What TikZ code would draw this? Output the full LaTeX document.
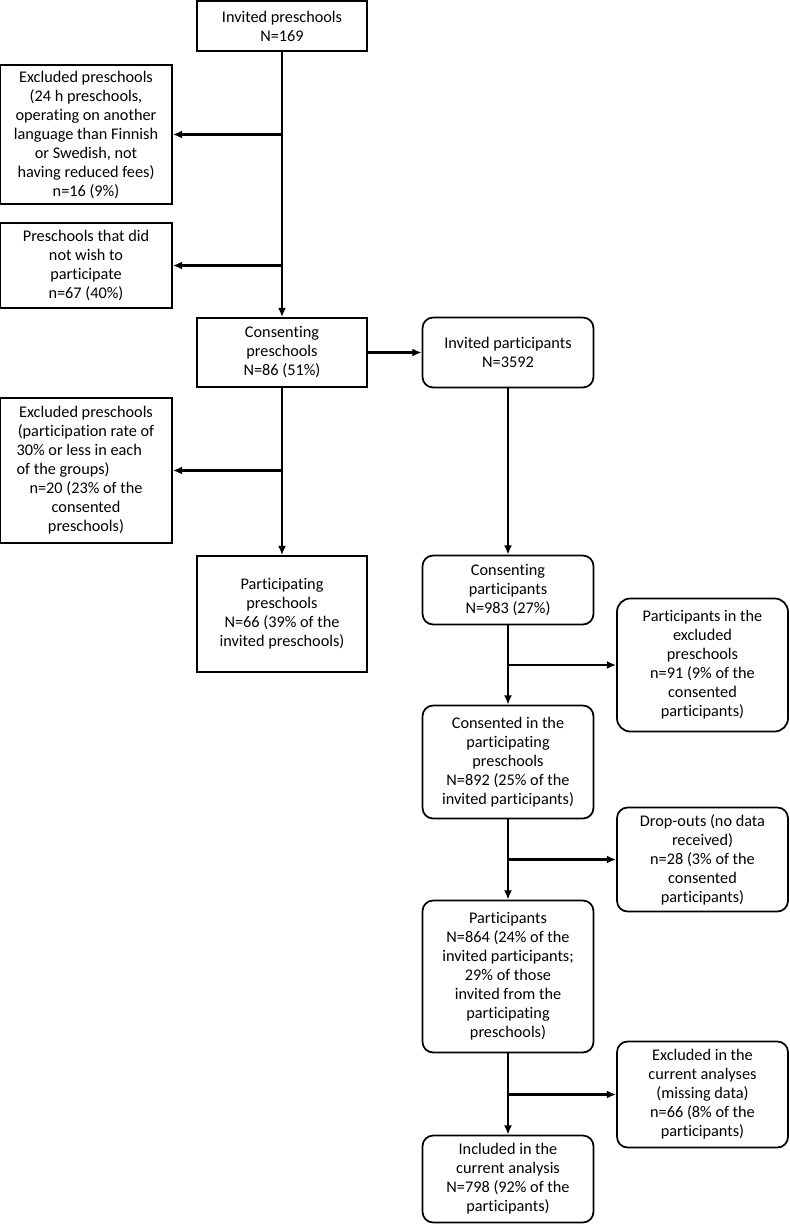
\documentclass[tikz,border=0pt]{standalone}
\usepackage{fontspec}
\setmainfont{Carlito}[Ligatures=NoCommon]
\usetikzlibrary{shapes, arrows.meta, positioning}
\tikzstyle{block}=[draw,rectangle,line width=1.3pt,align=center,inner sep=0pt]
\tikzstyle{rblock}=[block,rounded corners=8pt]
\tikzstyle{every node}=[font=\fontsize{12.2}{14.25}\selectfont]
\tikzstyle{flow}=[line width=1.8pt]

\begin{document}
\begin{tikzpicture}[>={Latex[length=7pt,width=6pt]}]
    \useasboundingbox (0,0) rectangle (591.75pt,-920.25pt);
    \node[block, minimum width=127.5pt, minimum height=37.5pt] (invs) at (211.5pt,-19.5pt) {Invited preschools\\N=169};
    \node[block, minimum width=129pt, minimum height=104.25pt, left of=invs, node distance=147pt, yshift=-81.375pt] (exlang) {Excluded preschools\\(24 h preschools,\\operating on another\\language than Finnish\\or Swedish, not\\having reduced fees)\\n=16 (9\%)};
    \node[block, minimum width=129pt, minimum height=63.75pt, below of=exlang, node distance=98.25pt] (nowish) {Preschools that did\\not wish to\\participate\\n=67 (40\%)};
    \node[block, minimum width=127.5pt, minimum height=51.75pt, below of=invs, node distance=244.875pt] (cons) {Consenting\\preschools\\N=86 (51\%)};
    \node[block, minimum width=129pt, minimum height=108.75pt, left of=cons, node distance=147pt, yshift=-88.5pt] (exrate) {Excluded preschools\\(participation rate of\\\makebox[104pt][l]{30\% or less in each}\\\makebox[104pt][l]{of the groups)}\\n=20 (23\% of the\\consented\\preschools)};
    \node[block, minimum width=127.5pt, minimum height=87pt, below of=cons, node distance=196.125pt] (parts) {Participating\\preschools\\N=66 (39\% of the\\invited preschools)};
    \node[rblock, minimum width=128.25pt, minimum height=52.5pt, right of=cons, node distance=169.5pt] (invp) {Invited participants\\N=3592};
    \node[rblock, minimum width=128.25pt, minimum height=51.75pt, below of=invp, node distance=178.125pt] (consp) {Consenting\\participants\\N=983 (27\%)};
    \node[rblock, rounded corners=10pt, minimum width=128.25pt, minimum height=99.75pt, right of=consp, node distance=145.875pt, yshift=-56.25pt] (exparts) {Participants in the\\excluded\\preschools\\n=91 (9\% of the\\consented\\participants)};
    \node[rblock, minimum width=128.25pt, minimum height=84.75pt, below of=consp, node distance=129pt] (consin) {Consented in the\\participating\\preschools\\N=892 (25\% of the\\invited participants)};
    \node[rblock, minimum width=128.25pt, minimum height=78pt, right of=consin, node distance=145.875pt, yshift=-73.125pt] (drop) {Drop-outs (no data\\received)\\n=28 (3\% of the\\consented\\participants)};
    \node[rblock, minimum width=128.25pt, minimum height=114pt, below of=consin, node distance=160.875pt] (partp) {Participants\\N=864 (24\% of the\\invited participants;\\29\% of those\\invited from the\\participating\\preschools)};
    \node[rblock, minimum width=128.25pt, minimum height=79.5pt, right of=partp, node distance=145.875pt, yshift=-88.5pt] (exmiss) {Excluded in the\\current analyses\\(missing data)\\n=66 (8\% of the\\participants)};
    \node[rblock, minimum width=128.25pt, minimum height=65.25pt, below of=partp, node distance=151.875pt] (incl) {Included in the\\current analysis\\N=798 (92\% of the\\participants)};
    \draw[flow,->] (invs) -- (cons);
    \draw[flow,->] (invs.south |- exlang) -- (exlang);
    \draw[flow,->] (invs.south |- nowish) -- (nowish);
    \draw[flow,->] (cons) -- (parts);
    \draw[flow,->] (cons.south |- exrate) -- (exrate);
    \draw[flow,->] (cons) -- (invp);
    \draw[flow,->] (invp) -- (consp);
    \draw[flow,->] (consp) -- (consin);
    \draw[flow,->] (consp.south |- exparts) -- (exparts);
    \draw[flow,->] (consin) -- (partp);
    \draw[flow,->] (consin.south |- drop) -- (drop);
    \draw[flow,->] (partp) -- (incl);
    \draw[flow,->] (partp.south |- exmiss) -- (exmiss);
\end{tikzpicture}
\end{document}
